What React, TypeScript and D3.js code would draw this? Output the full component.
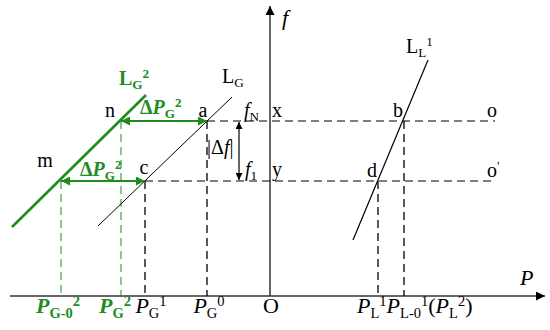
import React, { useEffect, useRef } from "react";
import * as d3 from "d3";

// P-f plane, units: O at (0, 0)
const fLevels = [17.5, 11.5]; // fN, f1
const pointNames = ["a", "c", "n", "m", "b", "d"];
const pointP = [-6.3, -12.5, -14.9, -20.9, 13.4, 10.8];
const pointF = [17.5, 11.5, 17.5, 11.5, 17.5, 11.5];

// characteristic lines (two end points each)
const lineLG_P = [-17.2, -3.8];
const lineLG_F = [7.0, 19.9];
const lineLG2_P = [-25.8, -12.4];
const lineLG2_F = [6.9, 20.1];
const lineLL1_P = [8.3, 15.8];
const lineLL1_F = [5.6, 23.6];

const dashEndP = 22.5;
const axisP = [-26, 27.5];
const axisF = [0, 29];

const GREEN = "#1e8c1e";
const SERIF = "'Liberation Serif', 'Times New Roman', serif";

type Part = [string, string]; // [text, kind]

export default function App() {
  const ref = useRef<SVGSVGElement>(null);

  useEffect(() => {
    document.body.style.margin = "0";
    const svg = d3.select(ref.current);
    svg.selectAll("*").remove();

    const x = d3.scaleLinear().domain(axisP).range([10, 545]);
    const y = d3.scaleLinear().domain(axisF).range([296, 6]);
    const pt = (name: string) => {
      const i = pointNames.indexOf(name);
      return [x(pointP[i]), y(pointF[i])];
    };

    const defs = svg.append("defs");
    const marker = (id: string, color: string, w: number, h: number) => {
      defs
        .append("marker")
        .attr("id", id)
        .attr("viewBox", "0 0 10 10")
        .attr("refX", 10)
        .attr("refY", 5)
        .attr("markerUnits", "userSpaceOnUse")
        .attr("markerWidth", w)
        .attr("markerHeight", h)
        .attr("orient", "auto-start-reverse")
        .append("path")
        .attr("d", "M0,0 L10,5 L0,10 Z")
        .attr("fill", color);
    };
    marker("arrBlack", "#000", 12, 9);
    marker("arrGreen", GREEN, 11, 9);
    marker("arrSmall", "#000", 9, 7);

    // axes
    svg
      .append("line")
      .attr("x1", x(axisP[0]))
      .attr("x2", x(axisP[1]))
      .attr("y1", y(0))
      .attr("y2", y(0))
      .attr("stroke", "#333")
      .attr("stroke-width", 1.5)
      .attr("marker-end", "url(#arrBlack)");
    svg
      .append("line")
      .attr("x1", x(0))
      .attr("x2", x(0))
      .attr("y1", y(0))
      .attr("y2", y(axisF[1]))
      .attr("stroke", "#333")
      .attr("stroke-width", 1.5)
      .attr("marker-end", "url(#arrBlack)");

    // horizontal dashed frequency levels
    const startP = [pointP[0], pointP[1]];
    fLevels.forEach((f, i) => {
      svg
        .append("line")
        .attr("x1", x(startP[i]))
        .attr("x2", x(dashEndP))
        .attr("y1", y(f))
        .attr("y2", y(f))
        .attr("stroke", "#000")
        .attr("stroke-width", 1.2)
        .attr("stroke-dasharray", "8,5");
    });

    // vertical dashed drop lines
    pointNames.forEach((n, i) => {
      const green = n === "n" || n === "m";
      svg
        .append("line")
        .attr("x1", x(pointP[i]))
        .attr("x2", x(pointP[i]))
        .attr("y1", y(pointF[i]))
        .attr("y2", y(0))
        .attr("stroke", green ? GREEN : "#000")
        .attr("stroke-width", green ? 1 : 1.3)
        .attr("stroke-dasharray", "8,5");
    });

    // characteristic lines
    const seg = (P: number[], F: number[], color: string, w: number) =>
      svg
        .append("line")
        .attr("x1", x(P[0]))
        .attr("y1", y(F[0]))
        .attr("x2", x(P[1]))
        .attr("y2", y(F[1]))
        .attr("stroke", color)
        .attr("stroke-width", w);
    seg(lineLG_P, lineLG_F, "#000", 1);
    seg(lineLG2_P, lineLG2_F, GREEN, 2.6);
    seg(lineLL1_P, lineLL1_F, "#000", 1.2);

    // green double arrows (shift of LG)
    [["n", "a"], ["m", "c"]].forEach(([s, e]) => {
      const [x1, y1] = pt(s);
      const [x2] = pt(e);
      svg
        .append("line")
        .attr("x1", x1)
        .attr("x2", x2)
        .attr("y1", y1)
        .attr("y2", y1)
        .attr("stroke", GREEN)
        .attr("stroke-width", 2.2)
        .attr("marker-start", "url(#arrGreen)")
        .attr("marker-end", "url(#arrGreen)");
    });

    // |Δf| double arrow
    svg
      .append("line")
      .attr("x1", 239)
      .attr("x2", 239)
      .attr("y1", y(fLevels[0]) + 1)
      .attr("y2", y(fLevels[1]) - 1)
      .attr("stroke", "#000")
      .attr("stroke-width", 1.2)
      .attr("marker-start", "url(#arrSmall)")
      .attr("marker-end", "url(#arrSmall)");

    // rich text helper
    const label = (
      tx: number,
      ty: number,
      parts: Part[],
      opt: { size?: number; color?: string; bold?: boolean; anchor?: string } = {}
    ) => {
      const size = opt.size ?? 20;
      const t = svg
        .append("text")
        .attr("x", tx)
        .attr("y", ty)
        .attr("font-family", SERIF)
        .attr("font-size", size)
        .attr("fill", opt.color ?? "#000")
        .attr("font-weight", opt.bold ? "bold" : "normal")
        .attr("text-anchor", opt.anchor ?? "start");
      let off = 0;
      parts.forEach(([s, kind]) => {
        const small = kind === "sub" || kind === "sup";
        const want = kind === "sub" ? size * 0.22 : kind === "sup" ? -size * 0.33 : 0;
        t.append("tspan")
          .attr("dy", want - off)
          .attr("font-size", small ? size * 0.66 : size)
          .attr("font-style", kind === "i" ? "italic" : "normal")
          .text(s);
        off = want;
      });
    };

    const g = { color: GREEN, bold: true };
    label(282, 25, [["f", "i"]], { size: 22 });
    label(520, 285, [["P", "i"]], { size: 22 });

    label(119, 85, [["L", "n"], ["G", "sub"], ["2", "sup"]], g);
    label(222, 83, [["L", "n"], ["G", "sub"]]);
    label(140, 114, [["Δ", "n"], ["P", "i"], ["G", "sub"], ["2", "sup"]], g);
    label(80, 176, [["Δ", "n"], ["P", "i"], ["G", "sub"], ["2", "sup"]], g);

    label(110, 117, [["n", "n"]], { anchor: "middle" });
    label(203, 117, [["a", "n"]], { anchor: "middle" });
    label(45, 167, [["m", "n"]], { anchor: "middle" });
    label(144, 174, [["c", "n"]], { anchor: "middle" });
    label(398, 117, [["b", "n"]], { anchor: "middle" });
    label(372, 177, [["d", "n"]], { anchor: "middle" });
    label(487, 117, [["o", "n"]]);
    label(487, 177, [["o", "n"], ["'", "sup"]]);

    label(244, 117, [["f", "i"], ["N", "sub"]]);
    label(272, 117, [["x", "n"]]);
    label(207, 154, [["|Δ", "n"], ["f", "i"], ["|", "n"]]);
    label(245, 176, [["f", "i"], ["1", "sub"]]);
    label(272, 176, [["y", "n"]]);
    label(406, 53, [["L", "n"], ["L", "sub"], ["1", "sup"]]);

    // bottom axis labels
    const by = 313;
    label(58, by, [["P", "i"], ["G-0", "sub"], ["2", "sup"]], { ...g, size: 22, anchor: "middle" });
    label(115, by, [["P", "i"], ["G", "sub"], ["2", "sup"]], { ...g, size: 22, anchor: "middle" });
    label(151, by, [["P", "i"], ["G", "sub"], ["1", "sup"]], { size: 22, anchor: "middle" });
    label(209, by, [["P", "i"], ["G", "sub"], ["0", "sup"]], { size: 22, anchor: "middle" });
    label(271, by, [["O", "n"]], { size: 22, anchor: "middle" });
    label(
      357,
      by,
      [["P", "i"], ["L", "sub"], ["1", "sup"], ["P", "i"], ["L-0", "sub"], ["1", "sup"], ["(", "n"], ["P", "i"], ["L", "sub"], ["2", "sup"], [")", "n"]],
      { size: 22 }
    );
  }, []);

  return <svg ref={ref} width={550} height={330} style={{ display: "block", background: "#fff" }} />;
}
